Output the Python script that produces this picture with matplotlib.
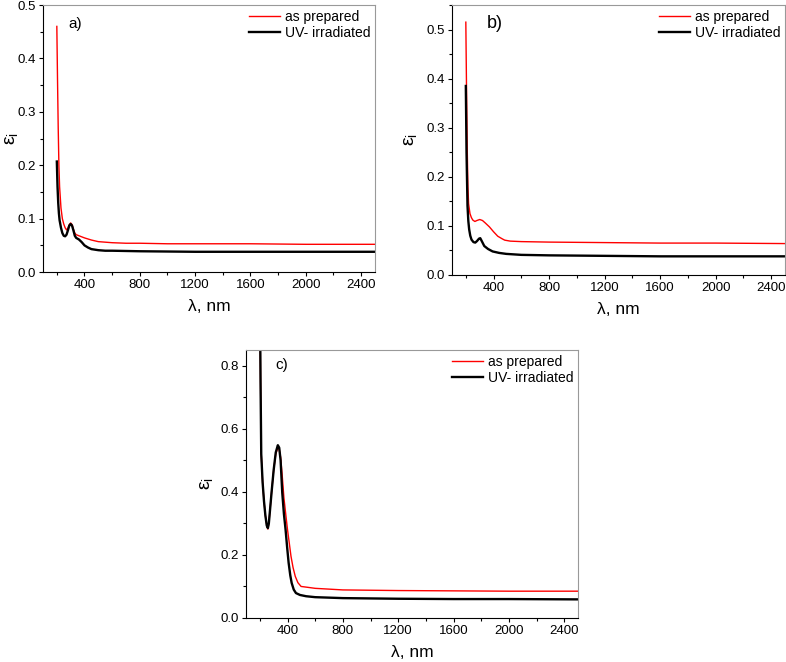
import matplotlib
matplotlib.use("Agg")
import matplotlib.pyplot as plt
from matplotlib.ticker import MultipleLocator

plt.rcParams["font.family"] = ["Liberation Sans", "DejaVu Sans"]

SERIES_LABELS = ["as prepared", "UV- irradiated"]

# panel a)
a_prep_x = [200, 205, 210, 215, 220, 230, 240, 250, 260, 270, 280, 290, 300, 310, 320,
            330, 340, 360, 380, 400, 450, 500, 550, 600, 700, 800, 1000, 1200, 1600, 2000, 2500]
a_prep_y = [0.46, 0.36, 0.27, 0.20, 0.16, 0.12, 0.100, 0.090, 0.083, 0.079, 0.082, 0.089, 0.092,
            0.089, 0.080, 0.073, 0.070, 0.068, 0.066, 0.064, 0.060, 0.057, 0.056, 0.055, 0.054,
            0.054, 0.053, 0.053, 0.053, 0.052, 0.052]
a_uv_x = [200, 205, 210, 215, 220, 230, 240, 250, 260, 270, 280, 290, 300, 310, 320, 330,
          340, 360, 380, 400, 425, 450, 500, 550, 600, 800, 1200, 1600, 2000, 2500]
a_uv_y = [0.207, 0.16, 0.13, 0.11, 0.097, 0.083, 0.073, 0.068, 0.067, 0.070, 0.078, 0.087, 0.090,
          0.087, 0.078, 0.068, 0.064, 0.061, 0.056, 0.050, 0.046, 0.043, 0.041, 0.040, 0.040,
          0.039, 0.038, 0.038, 0.038, 0.038]

# panel b)
b_prep_x = [200, 205, 210, 215, 220, 230, 240, 250, 265, 280, 300, 320, 340, 370, 400, 430,
            460, 480, 520, 600, 800, 1200, 1600, 2000, 2500]
b_prep_y = [0.515, 0.38, 0.26, 0.18, 0.145, 0.125, 0.117, 0.112, 0.109, 0.111, 0.113, 0.111,
            0.106, 0.098, 0.088, 0.079, 0.074, 0.071, 0.069, 0.068, 0.067, 0.066, 0.065, 0.065, 0.064]
b_uv_x = [200, 205, 212, 218, 224, 232, 241, 255, 268, 280, 295, 304, 315, 333, 360, 393,
          440, 491, 600, 800, 1200, 1600, 2000, 2500]
b_uv_y = [0.385, 0.25, 0.141, 0.110, 0.093, 0.080, 0.072, 0.067, 0.066, 0.069, 0.074, 0.075,
          0.069, 0.059, 0.053, 0.048, 0.045, 0.043, 0.041, 0.040, 0.039, 0.038, 0.038, 0.038]

# panel c)
c_prep_x = [200, 205, 210, 220, 230, 240, 250, 258, 265, 275, 285, 300, 315, 330, 340, 350,
            362, 374, 387, 400, 412, 425, 440, 456, 475, 498, 550, 600, 800, 1200, 1600, 2000, 2500]
c_prep_y = [1.05, 0.75, 0.52, 0.43, 0.37, 0.325, 0.293, 0.282, 0.30, 0.35, 0.40, 0.47, 0.52,
            0.540, 0.535, 0.51, 0.45, 0.381, 0.33, 0.28, 0.24, 0.196, 0.16, 0.132, 0.112, 0.100,
            0.097, 0.094, 0.089, 0.087, 0.086, 0.085, 0.085]
c_uv_x = [200, 205, 210, 220, 230, 240, 250, 258, 265, 275, 285, 300, 315, 330, 340, 350,
          362, 374, 386, 397, 408, 420, 430, 445, 461, 490, 534, 600, 800, 1200, 1600, 2000, 2500]
c_uv_y = [1.05, 0.75, 0.52, 0.43, 0.37, 0.325, 0.293, 0.285, 0.30, 0.35, 0.40, 0.47, 0.525,
          0.548, 0.54, 0.50, 0.397, 0.33, 0.280, 0.225, 0.175, 0.135, 0.111, 0.090, 0.079, 0.073,
          0.069, 0.066, 0.063, 0.061, 0.060, 0.060, 0.059]

PANELS = [
    # (rect, prep, uv, ymax, ymajor, yminor, tag, tag_pos, tag_size, ylabel_x)
    ([0.0547, 0.589, 0.4224, 0.4034], (a_prep_x, a_prep_y), (a_uv_x, a_uv_y),
     0.5, 0.1, 0.05, "a)", (0.075, 0.93), 11, -0.07),
    ([0.575, 0.5846, 0.4237, 0.4079], (b_prep_x, b_prep_y), (b_uv_x, b_uv_y),
     0.55, 0.1, 0.05, "b)", (0.105, 0.93), 13, -0.10),
    ([0.313, 0.0665, 0.4224, 0.4048], (c_prep_x, c_prep_y), (c_uv_x, c_uv_y),
     0.85, 0.2, 0.1, "c)", (0.087, 0.944), 11, -0.093),
]

fig = plt.figure(figsize=(7.86, 6.62), dpi=100)

for rect, prep, uv, ymax, ymaj, ymin, tag, tag_pos, tag_size, ylab_x in PANELS:
    ax = fig.add_axes(rect)
    ax.plot(prep[0], prep[1], color="#ff0000", lw=1.0, label=SERIES_LABELS[0])
    ax.plot(uv[0], uv[1], color="black", lw=1.7, label=SERIES_LABELS[1])
    ax.set_xlim(100, 2500)
    ax.set_ylim(0, ymax)
    ax.xaxis.set_major_locator(MultipleLocator(400))
    ax.xaxis.set_minor_locator(MultipleLocator(200))
    ax.yaxis.set_major_locator(MultipleLocator(ymaj))
    ax.yaxis.set_minor_locator(MultipleLocator(ymin))
    ax.set_xticks([400, 800, 1200, 1600, 2000, 2400])
    ax.tick_params(which="major", direction="out", length=3, width=0.8, labelsize=9.5,
                   top=False, right=False, pad=2)
    ax.tick_params(which="minor", direction="out", length=2.2, width=0.8, top=False, right=False)
    for side in ("top", "right"):
        ax.spines[side].set_color("#999999")
    for side in ("left", "bottom"):
        ax.spines[side].set_color("black")
    ax.set_xlabel("λ, nm", fontsize=12.5, labelpad=6)
    ax.set_ylabel(r"$\mathregular{ε_i}$", fontsize=14)
    ax.yaxis.set_label_coords(ylab_x, 0.5)
    ax.text(tag_pos[0], tag_pos[1], tag, transform=ax.transAxes, fontsize=tag_size,
            ha="left", va="center")
    ax.legend(loc="upper right", frameon=False, fontsize=10, handlelength=2.3,
              handletextpad=0.3, labelspacing=0.15, borderaxespad=0.1, borderpad=0.25)

fig.savefig("out.png", dpi=100)
